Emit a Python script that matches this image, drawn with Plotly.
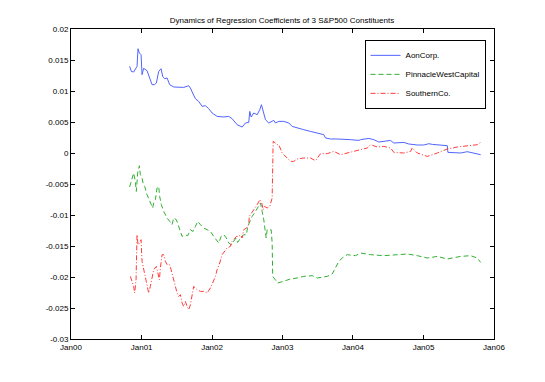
import pandas as pd
import plotly.graph_objects as go

# Datas em anos decimais e coeficientes de cada série
aon_t = [2000.832, 2000.856, 2000.889, 2000.913, 2000.937, 2000.951, 2000.970, 2000.994,
         2001.008, 2001.031, 2001.079, 2001.116, 2001.150, 2001.183, 2001.211, 2001.244,
         2001.278, 2001.301, 2001.329, 2001.363, 2001.400, 2001.457, 2001.528, 2001.599,
         2001.670, 2001.694, 2001.732, 2001.765, 2001.812, 2001.860, 2001.907, 2001.954,
         2002.002, 2002.073, 2002.167, 2002.238, 2002.286, 2002.333, 2002.357, 2002.428,
         2002.475, 2002.522, 2002.536, 2002.556, 2002.593, 2002.641, 2002.678, 2002.702,
         2002.735, 2002.759, 2002.806, 2002.854, 2002.877, 2002.901, 2002.948, 2003.019,
         2003.090, 2003.138, 2003.209, 2003.303, 2003.398, 2003.493, 2003.587, 2003.611,
         2003.682, 2003.777, 2003.871, 2003.966, 2004.084, 2004.108, 2004.226, 2004.297,
         2004.367, 2004.463, 2004.534, 2004.580, 2004.722, 2004.793, 2004.913, 2005.006,
         2005.077, 2005.126, 2005.197, 2005.339, 2005.347, 2005.432, 2005.527, 2005.623,
         2005.694, 2005.741, 2005.812]
aon_v = [0.01397, 0.01316, 0.01306, 0.01344, 0.01397, 0.01682, 0.01613, 0.01585,
         0.01263, 0.01366, 0.01327, 0.01210, 0.01102, 0.01102, 0.01129, 0.01316,
         0.01360, 0.01235, 0.01198, 0.01210, 0.01102, 0.01065, 0.01065, 0.01058,
         0.01085, 0.01048, 0.00952, 0.00876, 0.00832, 0.00752, 0.00763, 0.00715,
         0.00645, 0.00590, 0.00581, 0.00590, 0.00553, 0.00484, 0.00456, 0.00419,
         0.00484, 0.00494, 0.00671, 0.00581, 0.00645, 0.00618, 0.00698, 0.00779,
         0.00645, 0.00537, 0.00484, 0.00510, 0.00526, 0.00484, 0.00510, 0.00510,
         0.00484, 0.00429, 0.00403, 0.00376, 0.00348, 0.00323, 0.00295, 0.00242,
         0.00226, 0.00226, 0.00215, 0.00215, 0.00203, 0.00215, 0.00235, 0.00215,
         0.00177, 0.00198, 0.00203, 0.00161, 0.00171, 0.00145, 0.00129, 0.00129,
         0.00150, 0.00139, 0.00134, 0.00118, 0.00010, 0.00000, 0.00000, 0.00021,
         0.00000, -0.00016, -0.00027]

pnw_t = [2000.832, 2000.866, 2000.889, 2000.913, 2000.927, 2000.946, 2000.970, 2000.984,
         2001.008, 2001.022, 2001.045, 2001.079, 2001.112, 2001.136, 2001.159, 2001.173,
         2001.197, 2001.221, 2001.244, 2001.258, 2001.282, 2001.315, 2001.339, 2001.363,
         2001.400, 2001.434, 2001.457, 2001.495, 2001.519, 2001.552, 2001.576, 2001.609,
         2001.656, 2001.694, 2001.732, 2001.765, 2001.798, 2001.836, 2001.883, 2001.931,
         2001.978, 2002.025, 2002.063, 2002.096, 2002.130, 2002.167, 2002.205, 2002.238,
         2002.272, 2002.309, 2002.343, 2002.365, 2002.404, 2002.451, 2002.489, 2002.507,
         2002.536, 2002.570, 2002.617, 2002.664, 2002.688, 2002.712, 2002.735, 2002.769,
         2002.783, 2002.840, 2002.854, 2002.862, 2002.933, 2003.010, 2003.114, 2003.209,
         2003.303, 2003.422, 2003.493, 2003.635, 2003.706, 2003.800, 2003.848, 2003.919,
         2004.037, 2004.108, 2004.250, 2004.438, 2004.629, 2004.771, 2004.913, 2005.055,
         2005.197, 2005.339, 2005.527, 2005.669, 2005.765, 2005.812]
pnw_v = [-0.00548, -0.00431, -0.00323, -0.00458, -0.00619, -0.00323, -0.00205, -0.00350,
         -0.00403, -0.00484, -0.00539, -0.00673, -0.00753, -0.00834, -0.00887, -0.00806,
         -0.00753, -0.00565, -0.00539, -0.00700, -0.00834, -0.00942, -0.00995, -0.01048,
         -0.01103, -0.01156, -0.01048, -0.01076, -0.01156, -0.01290, -0.01345, -0.01318,
         -0.01334, -0.01237, -0.01265, -0.01184, -0.01103, -0.01156, -0.01210, -0.01237,
         -0.01265, -0.01345, -0.01398, -0.01452, -0.01345, -0.01318, -0.01371, -0.01452,
         -0.01479, -0.01426, -0.01371, -0.01442, -0.01371, -0.01318, -0.01318, -0.01184,
         -0.01103, -0.01023, -0.00942, -0.00834, -0.00806, -0.00942, -0.01076, -0.01371,
         -0.01237, -0.01237, -0.01452, -0.01990, -0.02097, -0.02071, -0.02032, -0.02016,
         -0.01990, -0.01979, -0.02016, -0.01990, -0.01952, -0.01748, -0.01694, -0.01640,
         -0.01656, -0.01613, -0.01640, -0.01656, -0.01640, -0.01629, -0.01656, -0.01694,
         -0.01668, -0.01710, -0.01668, -0.01656, -0.01694, -0.01765]

so_t = [2000.842, 2000.866, 2000.889, 2000.903, 2000.923, 2000.937, 2000.951, 2000.974,
        2000.994, 2001.008, 2001.031, 2001.055, 2001.079, 2001.102, 2001.126, 2001.150,
        2001.173, 2001.211, 2001.230, 2001.254, 2001.268, 2001.292, 2001.315, 2001.339,
        2001.363, 2001.400, 2001.420, 2001.448, 2001.481, 2001.505, 2001.528, 2001.552,
        2001.576, 2001.599, 2001.623, 2001.647, 2001.670, 2001.694, 2001.718, 2001.741,
        2001.789, 2001.836, 2001.883, 2001.931, 2001.978, 2002.016, 2002.049, 2002.073,
        2002.110, 2002.144, 2002.177, 2002.215, 2002.262, 2002.286, 2002.309, 2002.347,
        2002.380, 2002.404, 2002.428, 2002.451, 2002.489, 2002.522, 2002.529, 2002.546,
        2002.593, 2002.641, 2002.678, 2002.702, 2002.726, 2002.745, 2002.783, 2002.820,
        2002.854, 2002.862, 2002.868, 2002.901, 2002.925, 2002.948, 2002.996, 2003.019,
        2003.067, 2003.114, 2003.161, 2003.209, 2003.303, 2003.398, 2003.469, 2003.540,
        2003.635, 2003.729, 2003.824, 2003.919, 2004.013, 2004.108, 2004.203, 2004.250,
        2004.345, 2004.439, 2004.534, 2004.580, 2004.722, 2004.818, 2004.842, 2004.913,
        2005.055, 2005.197, 2005.339, 2005.481, 2005.623, 2005.765, 2005.812]
so_v = [-0.01990, -0.02071, -0.02152, -0.02258, -0.02044, -0.01318, -0.01479, -0.01452,
        -0.01398, -0.01748, -0.01882, -0.01990, -0.02124, -0.02258, -0.02152, -0.01990,
        -0.01882, -0.01829, -0.01935, -0.02044, -0.01855, -0.01640, -0.01640, -0.01748,
        -0.01802, -0.01802, -0.01882, -0.01990, -0.02152, -0.02258, -0.02313, -0.02285,
        -0.02419, -0.02474, -0.02394, -0.02474, -0.02527, -0.02447, -0.02258, -0.02152,
        -0.02205, -0.02232, -0.02232, -0.02258, -0.02177, -0.02071, -0.01990, -0.01882,
        -0.01774, -0.01640, -0.01587, -0.01532, -0.01506, -0.01426, -0.01398, -0.01345,
        -0.01345, -0.01318, -0.01371, -0.01237, -0.01210, -0.01156, -0.01023, -0.00995,
        -0.00915, -0.00834, -0.00753, -0.00781, -0.00915, -0.00861, -0.00887, -0.00861,
        -0.00726, -0.00269, 0.00187, 0.00161, 0.00134, 0.00134, 0.00000, -0.00027,
        -0.00081, -0.00135, -0.00135, -0.00097, -0.00081, -0.00081, -0.00124, -0.00011,
        -0.00011, 0.00026, -0.00027, 0.00000, 0.00016, 0.00053, 0.00081, 0.00134,
        0.00097, 0.00106, 0.00081, 0.00010, 0.00000, 0.00026, 0.00081, 0.00000,
        -0.00055, 0.00000, 0.00065, 0.00097, 0.00118, 0.00134, 0.00171]

x_ticks = ["2000-01-01", "2001-01-01", "2002-01-01", "2003-01-01",
           "2004-01-01", "2005-01-01", "2006-01-01"]
x_labels = ["Jan00", "Jan01", "Jan02", "Jan03", "Jan04", "Jan05", "Jan06"]
y_ticks = [0.02, 0.015, 0.01, 0.005, 0, -0.005, -0.01, -0.015, -0.02, -0.025, -0.03]
y_labels = ["0.02", "0.015", "0.01", "0.005", "0", "-0.005", "-0.01",
            "-0.015", "-0.02", "-0.025", "-0.03"]


# Converte anos decimais em datas
def to_dates(t):
    return pd.Timestamp("2000-01-01") + pd.to_timedelta(
        [(v - 2000) * 365.25 for v in t], unit="D")


fig = go.Figure()
fig.add_trace(go.Scatter(x=to_dates(aon_t), y=aon_v, mode="lines", name="AonCorp.",
                         line=dict(color="rgb(80,100,255)", width=1)))
fig.add_trace(go.Scatter(x=to_dates(pnw_t), y=pnw_v, mode="lines", name="PinnacleWestCapital",
                         line=dict(color="rgb(50,175,50)", width=1, dash="5px,3px")))
fig.add_trace(go.Scatter(x=to_dates(so_t), y=so_v, mode="lines", name="SouthernCo.",
                         line=dict(color="rgb(255,60,60)", width=1, dash="5px,2px,1px,2px")))

axis_style = dict(showline=True, linecolor="black", linewidth=1, mirror="ticks",
                  ticks="inside", ticklen=4, tickcolor="black", showgrid=False,
                  zeroline=False, tickfont=dict(size=8, color="black"))

# A página tem 8px de margem no body: figura um pouco menor que a janela
fig.update_layout(
    width=537,
    height=374,
    margin=dict(l=63, r=51, t=21, b=43),
    plot_bgcolor="white",
    paper_bgcolor="white",
    font=dict(family="Liberation Sans, Arial, sans-serif", size=8, color="black"),
    title=dict(text="Dynamics of Regression Coefficients of 3 S&P500 Constituents",
               x=274 / 537, xanchor="center", y=1 - 12 / 374, yanchor="middle",
               font=dict(size=8)),
    xaxis=dict(range=["2000-01-01", "2006-01-01"], tickmode="array",
               tickvals=x_ticks, ticktext=x_labels, **axis_style),
    yaxis=dict(range=[-0.03, 0.02], tickmode="array",
               tickvals=y_ticks, ticktext=y_labels, **axis_style),
    legend=dict(x=0.98, y=0.965, xanchor="right", yanchor="top",
                bordercolor="black", borderwidth=1, bgcolor="white",
                font=dict(size=8), tracegroupgap=0, itemwidth=30),
    showlegend=True,
)

fig.write_html("out.html")
